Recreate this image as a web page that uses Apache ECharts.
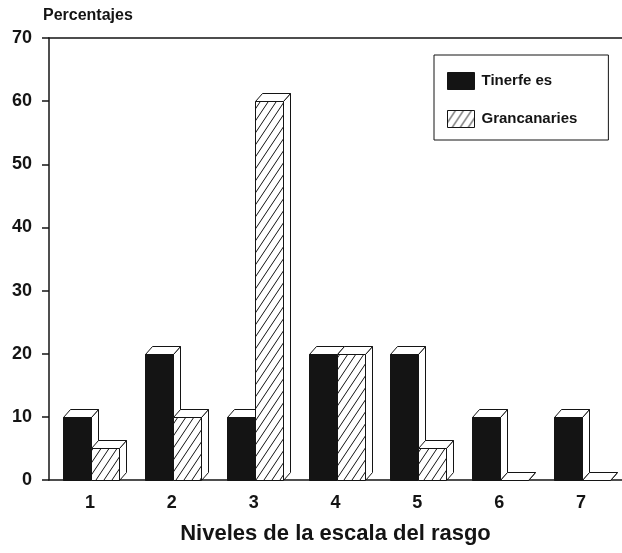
<!DOCTYPE html>
<html>
<head>
<meta charset="utf-8">
<style>
  html, body { margin: 0; padding: 0; background: #fff; }
  #chart { width: 622px; height: 553px; }
</style>
<script src="https://cdn.jsdelivr.net/npm/echarts@6/dist/echarts.min.js"></script>
</head>
<body>
<div id="chart"></div>
<script>
// Levels of the trait scale and percentages per group
const categories = ['1', '2', '3', '4', '5', '6', '7'];
const tinerfenos = [10, 20, 10, 20, 20, 10, 10];
const grancanarios = [5, 10, 60, 20, 5, 0, 0];
const seriesNames = ['Tinerfe es', 'Grancanaries'];

const FONT = '"Liberation Sans", Arial, sans-serif';
const INK = '#141414';
const DX = 7, DY = 8; // depth offset of the pseudo-3D boxes

// Diagonal hatch tile for the second group (steep "/" strokes)
function makeHatch() {
  const W = 8, H = 12;
  const c = document.createElement('canvas');
  c.width = W; c.height = H;
  const g = c.getContext('2d');
  g.fillStyle = '#fff';
  g.fillRect(0, 0, W, H);
  g.strokeStyle = INK;
  g.lineWidth = 1;
  g.beginPath();
  for (const off of [-W, 0, W]) {
    g.moveTo(off - 1, H + 1.5);
    g.lineTo(off + W + 1, -1.5);
  }
  g.stroke();
  return c;
}
const hatch = { image: makeHatch(), repeat: 'repeat' };
const fills = [INK, hatch];

function renderBox(params, api) {
  const s = params.seriesIndex;
  const idx = api.value(0);
  const v = api.value(1);
  const top = api.coord([idx, v]);
  const base = api.coord([idx, 0]);
  const band = api.size([1, 0])[0];
  const w = Math.round(band * 0.34);
  const x0 = Math.round(top[0]) + 1 - w + s * w + 0.5;
  const x1 = x0 + w;
  const yT = Math.round(top[1]) + 0.5;
  const yB = Math.round(base[1]) + 0.5;
  const edge = { stroke: INK, lineWidth: 1 };
  return {
    type: 'group',
    children: [
      {
        type: 'polygon',
        shape: { points: [[x1, yB], [x1 + DX, yB - DY], [x1 + DX, yT - DY], [x1, yT]] },
        style: Object.assign({ fill: '#fff' }, edge)
      },
      {
        type: 'polygon',
        shape: { points: [[x0, yT], [x0 + DX, yT - DY], [x1 + DX, yT - DY], [x1, yT]] },
        style: Object.assign({ fill: '#fff' }, edge)
      },
      {
        type: 'rect',
        shape: { x: x0, y: yT, width: w, height: yB - yT },
        style: Object.assign({ fill: fills[s] }, edge)
      }
    ]
  };
}

function toData(values) {
  return values.map((v, i) => [i, v]);
}

const chart = echarts.init(document.getElementById('chart'), null, { renderer: 'canvas' });

chart.setOption({
  backgroundColor: '#fff',
  animation: false,
  grid: { left: 49, right: -4, top: 38, bottom: 73, containLabel: false },
  legend: {
    orient: 'vertical',
    left: 434,
    top: 55,
    padding: [17, 31, 12, 13],
    itemWidth: 27,
    itemHeight: 17,
    itemGap: 20,
    icon: 'rect',
    borderColor: INK,
    borderWidth: 1,
    backgroundColor: '#fff',
    textStyle: { fontFamily: FONT, fontSize: 15, fontWeight: 'bold', color: INK, padding: [0, 0, 0, 2] },
    data: [
      { name: seriesNames[0], itemStyle: { color: INK, borderColor: INK, borderWidth: 1 } },
      { name: seriesNames[1], itemStyle: { color: hatch, borderColor: INK, borderWidth: 1 } }
    ]
  },
  xAxis: [
    {
      type: 'category',
      data: categories,
      boundaryGap: true,
      name: 'Niveles de la escala del rasgo',
      nameLocation: 'middle',
      nameGap: 43,
      nameTextStyle: { fontFamily: FONT, fontSize: 22, fontWeight: 'bold', color: INK },
      axisLine: { lineStyle: { color: INK, width: 1.5 } },
      axisTick: { alignWithLabel: true, length: 8, lineStyle: { color: INK, width: 1.5 } },
      axisLabel: { margin: 14, fontFamily: FONT, fontSize: 18, fontWeight: 'bold', color: INK },
      splitLine: { show: false }
    },
    {
      type: 'category',
      data: categories,
      position: 'top',
      axisLine: { lineStyle: { color: INK, width: 1.5 } },
      axisTick: { show: false },
      axisLabel: { show: false },
      splitLine: { show: false }
    }
  ],
  yAxis: {
    type: 'value',
    min: 0,
    max: 70,
    interval: 10,
    name: 'Percentajes',
    nameLocation: 'end',
    nameGap: 14,
    nameTextStyle: { fontFamily: FONT, fontSize: 16, fontWeight: 'bold', color: INK, align: 'left', padding: [0, 0, 0, -6] },
    axisLine: { show: true, lineStyle: { color: INK, width: 1.5 } },
    axisTick: { show: true, length: 7, lineStyle: { color: INK, width: 1.5 } },
    axisLabel: { margin: 17, fontFamily: FONT, fontSize: 18, fontWeight: 'bold', color: INK },
    splitLine: { show: false }
  },
  series: [
    {
      name: seriesNames[0],
      type: 'custom',
      renderItem: renderBox,
      itemStyle: { color: INK, borderColor: INK, borderWidth: 1 },
      encode: { x: 0, y: 1 },
      data: toData(tinerfenos)
    },
    {
      name: seriesNames[1],
      type: 'custom',
      renderItem: renderBox,
      itemStyle: { color: hatch, borderColor: INK, borderWidth: 1 },
      encode: { x: 0, y: 1 },
      data: toData(grancanarios)
    }
  ]
});
</script>
</body>
</html>
